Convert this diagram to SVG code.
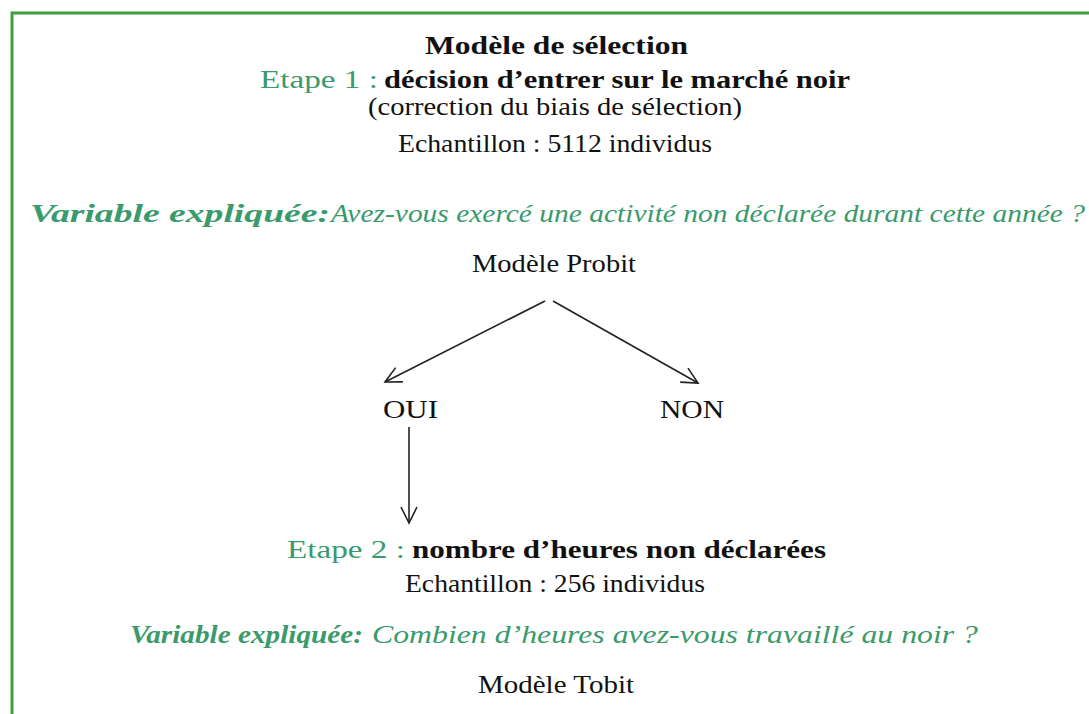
<svg xmlns="http://www.w3.org/2000/svg" width="1089" height="714" viewBox="0 0 1089 714">
<style>
text{font-family:"Liberation Serif","Times New Roman",serif;font-size:25px;fill:#111}
.b{font-weight:bold}
.g{fill:#3a9a6c}
.i{font-style:italic}
.c{stroke:#222;stroke-width:1.6;fill:none}
</style>
<defs>
<marker id="ah" viewBox="0 0 20 20" refX="18" refY="10" markerWidth="20" markerHeight="20" markerUnits="userSpaceOnUse" orient="auto">
<path d="M2,2 L18,10 L2,18" fill="none" stroke="#222" stroke-width="1.6"/>
</marker>
</defs>
<rect width="1089" height="714" fill="#fff"/>
<g id="frame">
<path d="M12,714 L12,13 L1089,13" fill="none" stroke="#3f9f3f" stroke-width="3"/>
</g>
<g id="title">
<text class="b" x="425" y="54" textLength="263" lengthAdjust="spacingAndGlyphs">Modèle de sélection</text>
</g>
<g id="etape1">
<text class="g" x="260" y="88" textLength="118" lengthAdjust="spacingAndGlyphs">Etape 1 :</text>
<text class="b" x="384" y="88" textLength="466" lengthAdjust="spacingAndGlyphs">décision d’entrer sur le marché noir</text>
<text x="368" y="115" textLength="374" lengthAdjust="spacingAndGlyphs">(correction du biais de sélection)</text>
<text x="398" y="152" textLength="314" lengthAdjust="spacingAndGlyphs">Echantillon : 5112 individus</text>
</g>
<g id="variable1">
<text class="g b i" x="30" y="222" textLength="300" lengthAdjust="spacingAndGlyphs">Variable expliquée:</text>
<text class="g i" x="331" y="222" textLength="754" lengthAdjust="spacingAndGlyphs">Avez-vous exercé une activité non déclarée durant cette année ?</text>
</g>
<g id="probit">
<text x="472" y="272" textLength="164" lengthAdjust="spacingAndGlyphs">Modèle Probit</text>
</g>
<g id="oui">
<text x="383" y="418" textLength="55" lengthAdjust="spacingAndGlyphs">OUI</text>
</g>
<g id="non">
<text x="660" y="418" textLength="64" lengthAdjust="spacingAndGlyphs">NON</text>
</g>
<g id="etape2">
<text class="g" x="287" y="558" textLength="118" lengthAdjust="spacingAndGlyphs">Etape 2 :</text>
<text class="b" x="412" y="558" textLength="414" lengthAdjust="spacingAndGlyphs">nombre d’heures non déclarées</text>
<text x="405" y="592" textLength="300" lengthAdjust="spacingAndGlyphs">Echantillon : 256 individus</text>
</g>
<g id="variable2">
<text class="g b i" x="130" y="643" textLength="233" lengthAdjust="spacingAndGlyphs">Variable expliquée:</text>
<text class="g i" x="372" y="643" textLength="606" lengthAdjust="spacingAndGlyphs">Combien d’heures avez-vous travaillé au noir ?</text>
</g>
<g id="tobit">
<text x="478" y="693" textLength="156" lengthAdjust="spacingAndGlyphs">Modèle Tobit</text>
</g>
<g id="connectors">
<line class="c" x1="545" y1="301" x2="385" y2="382" marker-end="url(#ah)"/>
<line class="c" x1="553" y1="301" x2="698" y2="383" marker-end="url(#ah)"/>
<line class="c" x1="409" y1="427" x2="409" y2="523" marker-end="url(#ah)"/>
</g>
</svg>
